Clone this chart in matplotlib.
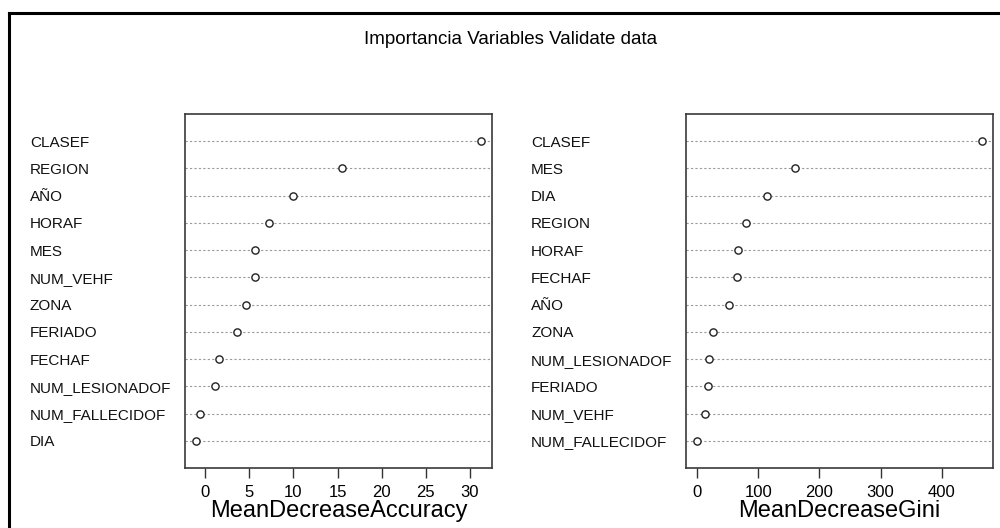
import matplotlib.pyplot as plt
import matplotlib.transforms as mtransforms
from matplotlib.lines import Line2D

plt.rcParams['font.family'] = ['Liberation Sans', 'DejaVu Sans']

# Variable importance from the random forest (listed top to bottom)
acc_vars = ['CLASEF', 'REGION', 'AÑO', 'HORAF', 'MES', 'NUM_VEHF', 'ZONA',
            'FERIADO', 'FECHAF', 'NUM_LESIONADOF', 'NUM_FALLECIDOF', 'DIA']
acc_vals = [31.2, 15.5, 9.9, 7.2, 5.6, 5.6, 4.6, 3.6, 1.6, 1.1, -0.6, -1.0]

gini_vars = ['CLASEF', 'MES', 'DIA', 'REGION', 'HORAF', 'FECHAF', 'AÑO',
             'ZONA', 'NUM_LESIONADOF', 'FERIADO', 'NUM_VEHF', 'NUM_FALLECIDOF']
gini_vals = [465.6, 159.6, 114.8, 79.3, 67.3, 65.6, 52.5, 26.2, 19.7, 18.0, 13.1, 0.0]

acc_ticks = [0, 5, 10, 15, 20, 25, 30]
gini_ticks = [0, 100, 200, 300, 400]

fig = plt.figure(figsize=(10, 5.28), dpi=100)
W, H = 1000, 528


def dotchart(left_px, label_px, names, values, ticks, xlabel):
    ax = fig.add_axes([left_px / W, 1 - 468 / H, 307 / W, 354 / H])
    n = len(values)
    ys = [n - i for i in range(n)]
    for y in ys:
        ax.axhline(y, color='#9a9a9a', lw=0.8, ls=(0, (2, 2)), zorder=1)
    ax.plot(values, ys, 'o', mfc='white', mec='#222222', mew=1.0, ms=5.2,
            zorder=3, clip_on=False)
    lo, hi = min(values), max(values)
    pad = (hi - lo) * 0.04
    ax.set_xlim(lo - pad, hi + pad)
    ax.set_ylim(0, n + 1)
    ax.set_yticks([])
    ax.set_xticks(ticks)
    ax.set_xticklabels([str(t) for t in ticks], fontsize=12)
    ax.tick_params(axis='x', direction='out', length=7, width=1,
                   color='#333333', pad=5)
    for s in ax.spines.values():
        s.set_color('#3a3a3a')
        s.set_linewidth(1.2)
    ax.set_xlabel(xlabel, fontsize=17, labelpad=0)
    trans = mtransforms.blended_transform_factory(fig.transFigure, ax.transData)
    for name, y in zip(names, ys):
        ax.text(label_px / W, y, name, transform=trans, ha='left',
                va='center_baseline', fontsize=11, color='#111111')
    return ax


dotchart(185, 30, acc_vars, acc_vals, acc_ticks, 'MeanDecreaseAccuracy')
dotchart(686, 531, gini_vars, gini_vals, gini_ticks, 'MeanDecreaseGini')

fig.text(511 / W, 1 - 40 / H, 'Importancia Variables Validate data',
         ha='center', va='center', fontsize=13.5)

# outer frame (runs off the right and bottom edges)
fig.add_artist(Line2D([9 / W, 9 / W], [0, 1 - 13 / H], transform=fig.transFigure,
                      color='black', lw=2.2))
fig.add_artist(Line2D([9 / W, 1], [1 - 13 / H, 1 - 13 / H], transform=fig.transFigure,
                      color='black', lw=2.2))

fig.savefig('out.png', dpi=100, facecolor='white')
